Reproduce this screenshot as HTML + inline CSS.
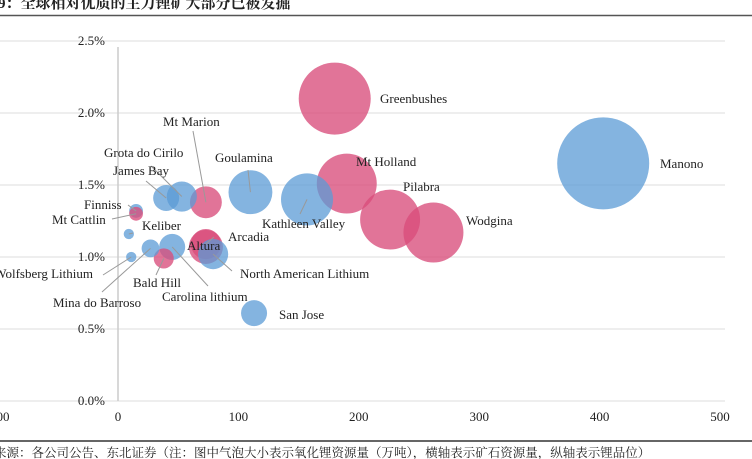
<!DOCTYPE html>
<html><head><meta charset="utf-8"><style>
html,body{margin:0;padding:0;background:#fff;overflow:hidden}
svg{display:block}
text{font-family:"Liberation Serif","Noto Serif CJK SC",serif;font-size:13px;fill:#222}
</style></head><body>
<svg id="chart" width="752" height="459">
<text x="-17" y="8" style="font-size:15px;font-weight:bold;font-family:'Liberation Serif','Noto Serif CJK SC',serif">图9：全球相对优质的主力锂矿大部分已被发掘</text>
<line x1="0" y1="15.5" x2="752" y2="15.5" stroke="#555" stroke-width="1.5"/>
<g id="grid"></g><g id="bubbles"></g><g id="labels"></g>
<line x1="0" y1="441" x2="752" y2="441" stroke="#333" stroke-width="1.5"/>
<text x="-31" y="457" style="font-size:12.5px;font-family:'Liberation Serif','Noto Serif CJK SC',serif">资料来源：各公司公告、东北证券（注：图中气泡大小表示氧化锂资源量（万吨），横轴表示矿石资源量，纵轴表示锂品位）</text>
</svg>
<script>
const names=["Greenbushes","Manono","Mt Holland","Pilabra","Wodgina","Kathleen Valley","Goulamina","Mt Marion","Grota do Cirilo","James Bay","Finniss","Mt Cattlin","Keliber","Wolfsberg Lithium","Mina do Barroso","Bald Hill","Carolina lithium","Altura","Arcadia","North American Lithium","San Jose"];
const xVals=[180,403,190,226,262,157,110,73,53,40,15,15,9,11,27,38,45,73,73,79,113];
const yVals=[2.10,1.65,1.51,1.26,1.17,1.40,1.45,1.38,1.42,1.41,1.32,1.30,1.16,1.00,1.06,0.99,1.07,1.07,1.09,1.02,0.61];
const sizes=[245,400,170,170,170,128,91,48,43,32,9,9,5,5,15,19,32,55,43,43,32];
const groups=["p","b","p","p","p","b","b","p","b","b","b","p","b","b","b","p","b","p","p","b","b"];
const xTicks=[-100,0,100,200,300,400,500];
const yTicks=[0,0.5,1.0,1.5,2.0,2.5];
const labelPos=[[380,103,"start"],[660,168,"start"],[356,166,"start"],[403,191,"start"],[466,225,"start"],[262,228,"start",300,214],[215,162,"start",248,170],[163,126,"start",193,131],[104,157,"start",151,166],[113,175,"start",146,181],[84,209,"start",128,205],[52,224,"start",112,219],[142,230,"start",133,233],[93,278,"end",103,275],[53,307,"start",102,292],[133,287,"start",156,275],[162,301,"start",208,286],[187,250,"start"],[228,241,"start",214,237],[240,278,"start",232,271],[279,319,"start"]];
const X=v=>118+v*1.204, Y=v=>401-v*144, R=s=>2.3*Math.sqrt(s);
const NS="http://www.w3.org/2000/svg";
const mk=(t,a,p)=>{const e=document.createElementNS(NS,t);for(const k in a)e.setAttribute(k,a[k]);p.appendChild(e);return e;};
const grid=document.getElementById('grid'),bub=document.getElementById('bubbles'),lab=document.getElementById('labels');
yTicks.forEach(t=>{const l=mk('line',{x1:0,x2:725,y1:Y(t),y2:Y(t),stroke:'#ddd','stroke-width':1},grid);


const tx=mk('text',{x:105,y:Y(t)+4,'text-anchor':'end'},grid);tx.textContent=t.toFixed(1)+'%';

});
const ax=mk('line',{x1:X(0),x2:X(0),y1:Y(2.5)+6,y2:Y(0),stroke:'#ccc','stroke-width':1.5},grid);


xTicks.forEach(t=>{const tx=mk('text',{x:X(t),y:421,'text-anchor':'middle'},grid);tx.textContent=t;

});
const order=sizes.map((s,i)=>i).sort((a,b)=>sizes[b]-sizes[a]);
order.forEach(i=>{const c=mk('circle',{cx:X(xVals[i]),cy:Y(yVals[i]),r:R(sizes[i]),fill:groups[i]=='p'?'rgba(217,77,123,0.78)':'rgba(91,155,213,0.75)'},bub);

});
names.forEach((n,i)=>{const p=labelPos[i];
if(p[3]!==undefined){const l=mk('line',{x1:p[3],y1:p[4],x2:X(xVals[i]),y2:Y(yVals[i]),stroke:'#999','stroke-width':1},lab);

}
const t=mk('text',{x:p[0],y:p[1],'text-anchor':p[2]},lab);t.textContent=n;

});
</script>
</body></html>
